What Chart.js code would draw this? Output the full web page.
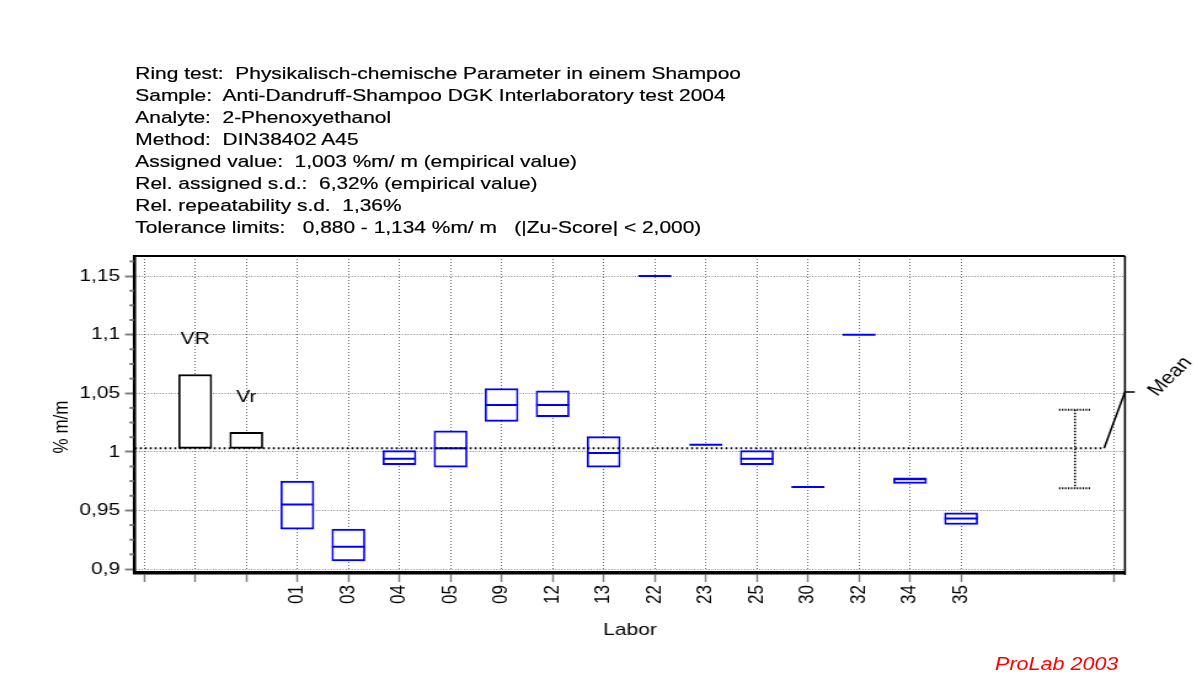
<!DOCTYPE html>
<html>
<head>
<meta charset="utf-8">
<title>2-Phenoxyethanol – Labor</title>
<script src="https://cdn.jsdelivr.net/npm/chart.js@4.4.1/dist/chart.umd.min.js"></script>
<style>
  html, body { margin: 0; padding: 0; background: #fff; overflow: hidden; }
  /* the whole sheet is laid out narrow and widened, like the ProLab export */
  #sheet { position: absolute; left: 0; top: 0; width: 977px; height: 699px;
           transform: scaleX(1.2303); transform-origin: 0 0;
           font-family: "Liberation Sans", Arial, sans-serif; color: #000; }
  #sheet canvas { position: absolute; left: 0; top: 0; }
  #head { position: absolute; left: 110px; top: 63px; font-size: 17px; line-height: 22px; white-space: pre;
          -webkit-text-stroke: 0.2px #000; }
  #brand { position: absolute; right: 68px; top: 656px; font-size: 17.5px; line-height: 17.5px; font-style: italic; color: #f00; }
</style>
</head>
<body>
<div id="sheet">
  <div id="head"><div>Ring test:  Physikalisch-chemische Parameter in einem Shampoo</div><div>Sample:  Anti-Dandruff-Shampoo DGK Interlaboratory test 2004</div><div>Analyte:  2-Phenoxyethanol</div><div>Method:  DIN38402 A45</div><div>Assigned value:  1,003 %m/ m (empirical value)</div><div>Rel. assigned s.d.:  6,32% (empirical value)</div><div>Rel. repeatability s.d.  1,36%</div><div>Tolerance limits:   0,880 - 1,134 %m/ m   (|Zu-Score| &lt; 2,000)</div></div>
  <canvas id="labChart" width="977" height="699"></canvas>
  <div id="brand">ProLab 2003</div>
</div>
<script>
// Laboratory results (box: low / median / high, % m/m)
const labs      = ['01', '03', '04', '05', '09', '12', '13', '22', '23', '25', '30', '32', '34', '35'];
const labLow    = [0.934, 0.907, 0.989, 0.987, 1.026, 1.030, 0.987, 1.150, 1.006, 0.989, 0.970, 1.100, 0.9730, 0.938];
const labMedian = [0.955, 0.919, 0.994, 1.003, 1.040, 1.040, 0.999, 1.150, 1.006, 0.994, 0.970, 1.100, 0.9770, 0.943];
const labHigh   = [0.975, 0.934, 1.001, 1.018, 1.054, 1.052, 1.013, 1.150, 1.006, 1.001, 0.970, 1.100, 0.9772, 0.948];

// Assigned value and precision bars (VR reproducibility, Vr repeatability)
const assignedValue   = 1.003;
const precisionLabels = ['VR', 'Vr'];
const precisionTop    = [1.066, 1.0166];

// spread of the lab means
const meanRange = [0.969, 1.036];

const yTicks = [0.9, 0.95, 1, 1.05, 1.1, 1.15];

// axis layout (slot 0 is empty, then VR, Vr, the labs, and the mean column)
const X_MIN = -0.18, X_MAX = 19.21;
const Y_MIN = 0.8966, Y_MAX = 1.1671;
const LAB_SLOT = 3;
const MEAN_SLOT = 18.23;
const MEAN_LINE_END = 18.8;
const MEAN_LABEL_Y = 1.051;
const xTickPos = [];
for (let i = 0; i < LAB_SLOT + labs.length; i++) xTickPos.push(i);
xTickPos.push(19);

const BLUE = '#0000ff';
const GREY = '#808080';
const GRID = '#6c6c6c';
const FONT = '"Liberation Sans", Arial, sans-serif';

Chart.defaults.font.family = FONT;
Chart.defaults.font.size = 17;
Chart.defaults.color = '#000';

const boxIdx = labs.map((_, i) => i).filter(i => labHigh[i] > labLow[i]);
const sideWidth = {top: 2, bottom: 2, left: 1.7, right: 1.7};

// extra drawing: minor ticks, axis title, mean line, Mean marker, VR/Vr labels, frame
const extras = {
  id: 'extras',
  afterDatasetsDraw(chart) {
    const {ctx, chartArea: a, scales: {x, y}} = chart;
    ctx.save();

    // minor ticks on the value axis
    ctx.strokeStyle = GREY;
    ctx.lineWidth = 2;
    for (let k = 1; ; k++) {
      const v = 0.9 + k * 0.0125;
      if (v > Y_MAX) break;
      if (k % 4 === 0) continue;
      const py = y.getPixelForValue(v);
      ctx.beginPath();
      ctx.moveTo(a.left - 4.5, py);
      ctx.lineTo(a.left - 1, py);
      ctx.stroke();
    }

    // value axis title, sitting a little below the middle
    ctx.fillStyle = '#000';
    ctx.font = '17px ' + FONT;
    ctx.save();
    ctx.translate(50.4, 427);
    ctx.rotate(-Math.PI / 2);
    ctx.textAlign = 'center';
    ctx.textBaseline = 'middle';
    ctx.fillText('% m/m', 0, 0);
    ctx.restore();

    // assigned value line
    const my = y.getPixelForValue(assignedValue);
    const endX = x.getPixelForValue(MEAN_LINE_END);
    ctx.strokeStyle = '#000';
    ctx.lineWidth = 2;
    ctx.setLineDash([1.6, 2.4]);
    ctx.beginPath();
    ctx.moveTo(a.left, my);
    ctx.lineTo(endX, my);
    ctx.stroke();

    // mean range marker
    const bx = x.getPixelForValue(MEAN_SLOT);
    const lo = y.getPixelForValue(meanRange[0]);
    const hi = y.getPixelForValue(meanRange[1]);
    ctx.lineWidth = 1.6;
    ctx.setLineDash([1.5, 1.5]);
    ctx.beginPath();
    ctx.moveTo(bx, hi);
    ctx.lineTo(bx, lo);
    ctx.stroke();
    ctx.lineWidth = 2;
    ctx.setLineDash([1.2, 1.2]);
    ctx.beginPath();
    ctx.moveTo(bx - 13, hi); ctx.lineTo(bx + 13, hi);
    ctx.moveTo(bx - 13, lo); ctx.lineTo(bx + 13, lo);
    ctx.stroke();

    // leader to the "Mean" label
    const ly = y.getPixelForValue(MEAN_LABEL_Y);
    ctx.setLineDash([]);
    ctx.lineWidth = 1.6;
    ctx.beginPath();
    ctx.moveTo(endX, my);
    ctx.lineTo(a.right, ly);
    ctx.lineTo(a.right + 8, ly);
    ctx.stroke();

    ctx.font = '18px ' + FONT;
    ctx.save();
    ctx.translate(a.right + 26, ly + 5);
    ctx.rotate(-50 * Math.PI / 180);
    ctx.textAlign = 'left';
    ctx.textBaseline = 'alphabetic';
    ctx.fillText('Mean', 0, 0);
    ctx.restore();

    // VR / Vr captions above their bars
    ctx.font = '17px ' + FONT;
    ctx.textAlign = 'center';
    ctx.textBaseline = 'middle';
    precisionLabels.forEach((t, i) => {
      ctx.fillText(t, x.getPixelForValue(i + 1), y.getPixelForValue(precisionTop[i]) - 35);
    });

    // top and right frame
    ctx.strokeStyle = '#000';
    ctx.lineWidth = 2;
    ctx.beginPath();
    ctx.moveTo(a.left, a.top);
    ctx.lineTo(a.right, a.top);
    ctx.stroke();
    ctx.lineWidth = 1.6;
    ctx.beginPath();
    ctx.moveTo(a.right, a.top);
    ctx.lineTo(a.right, a.bottom + 2);
    ctx.stroke();

    ctx.restore();
  }
};

const ctx = document.getElementById('labChart').getContext('2d');
new Chart(ctx, {
  type: 'bar',
  data: {
    datasets: [
      {
        // medians first so they are drawn over the white box fill
        type: 'scatter',
        label: 'Median',
        order: 0,
        data: labs.map((_, i) => ({x: i + LAB_SLOT, y: labMedian[i]})),
        pointStyle: 'line',
        pointRadius: 13.4,
        pointBorderWidth: 2,
        pointBorderColor: BLUE,
        pointBackgroundColor: BLUE,
        showLine: false
      },
      {
        label: 'Präzision',
        order: 1,
        data: precisionLabels.map((_, i) => ({x: i + 1, y: [assignedValue, precisionTop[i]]})),
        borderColor: '#000',
        backgroundColor: '#fff',
        borderWidth: sideWidth,
        borderSkipped: false,
        barThickness: 26.8,
        grouped: false
      },
      {
        label: 'Labore',
        order: 1,
        data: boxIdx.map(i => ({x: i + LAB_SLOT, y: [labLow[i], labHigh[i]]})),
        borderColor: BLUE,
        backgroundColor: '#fff',
        borderWidth: sideWidth,
        borderSkipped: false,
        barThickness: 26.8,
        grouped: false
      }
    ]
  },
  options: {
    responsive: false,
    animation: false,
    events: [],
    layout: { padding: { top: 256, right: 62.6, left: 0, bottom: 0 } },
    plugins: { legend: { display: false }, tooltip: { enabled: false } },
    scales: {
      x: {
        type: 'linear',
        min: X_MIN,
        max: X_MAX,
        offset: false,
        afterBuildTicks: s => { s.ticks = xTickPos.map(v => ({value: v})); },
        afterFit: s => { s.height = 126; },
        grid: { offset: false, color: GRID, lineWidth: 1, tickColor: GREY, tickLength: 9, tickWidth: 1.5 },
        border: { display: true, color: '#000', width: 3.5, dash: [1, 2] },
        ticks: {
          autoSkip: false,
          minRotation: 90,
          maxRotation: 90,
          padding: 3,
          callback: v => (v >= LAB_SLOT && v < LAB_SLOT + labs.length) ? labs[v - LAB_SLOT] : ''
        },
        title: { display: true, text: 'Labor', font: { size: 17, lineHeight: 1.2 }, padding: { top: 0, bottom: 58.8 } }
      },
      y: {
        min: Y_MIN,
        max: Y_MAX,
        beginAtZero: false,
        afterBuildTicks: s => { s.ticks = yTicks.map(v => ({value: v})); },
        afterFit: s => { s.width = 109.7; },
        grid: { color: GRID, lineWidth: 1, tickColor: GREY, tickLength: 8.1, tickWidth: 2 },
        border: { display: true, color: '#000', width: 2.6, dash: [0.8, 1.6] },
        ticks: { padding: 4, callback: v => String(v).replace('.', ',') },
        title: { display: false }
      }
    }
  },
  plugins: [extras]
});
</script>
</body>
</html>
